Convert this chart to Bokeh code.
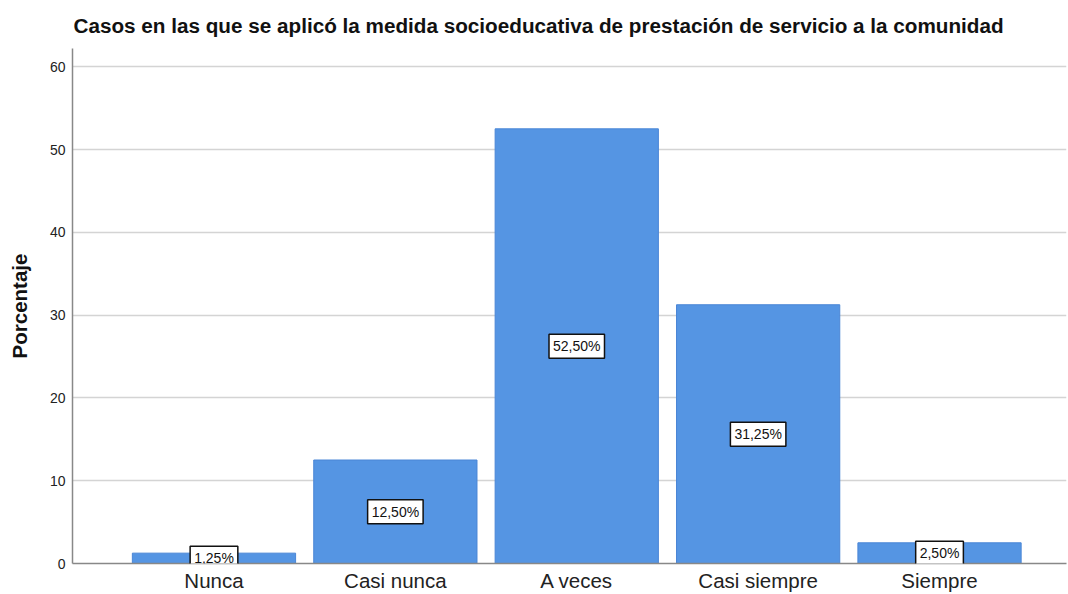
from bokeh.plotting import figure
from bokeh.models import ColumnDataSource, Label, FixedTicker, Range1d
from bokeh.embed import file_html
from bokeh.resources import INLINE

categories = ["Nunca", "Casi nunca", "A veces", "Casi siempre", "Siempre"]
values = [1.25, 12.50, 52.50, 31.25, 2.50]
labels = ["1,25%", "12,50%", "52,50%", "31,25%", "2,50%"]
y_ticks = [0, 10, 20, 30, 40, 50, 60]

FONT = "Liberation Sans"

xs = list(range(len(categories)))
source = ColumnDataSource(dict(x=xs, top=values))

p = figure(
    width=1068, height=594,
    output_backend="svg", toolbar_location=None,
    x_range=Range1d(-0.78, 4.70), y_range=Range1d(0, 62.2),
    min_border_left=72, min_border_right=2, min_border_top=48, min_border_bottom=30,
    title="Casos en las que se aplicó la medida socioeducativa de prestación de servicio a la comunidad",
)
p.outline_line_color = None
p.background_fill_color = "white"

p.title.text_font = FONT
p.title.text_font_size = "20.7px"
p.title.text_font_style = "bold"
p.title.text_color = "#111111"
p.title.offset = 1
p.title.standoff = 23

p.vbar(x="x", top="top", width=0.9, source=source,
       fill_color="#5595E3", line_color="#4A86D6", line_width=1)

for xi, v, t in zip(xs, values, labels):
    p.add_layout(Label(x=xi, y=v / 2, text=t,
                       text_align="center", text_baseline="middle",
                       text_font=FONT, text_font_size="14px", text_color="#111111",
                       background_fill_color="white", border_line_color="#111111",
                       border_line_width=1.5, padding=4))

p.xgrid.grid_line_color = None
p.ygrid.grid_line_color = "#d4d4d4"
p.ygrid.grid_line_width = 1.5
p.yaxis.ticker = FixedTicker(ticks=y_ticks)
p.xaxis.ticker = FixedTicker(ticks=xs)
p.xaxis.major_label_overrides = {i: c for i, c in enumerate(categories)}

for ax in (p.xaxis, p.yaxis):
    ax.axis_line_color = "#888888"
    ax.axis_line_width = 1.5
    ax.major_tick_line_color = None
    ax.minor_tick_line_color = None
    ax.major_tick_out = 0
    ax.major_tick_in = 0
    ax.major_label_text_font = FONT
    ax.major_label_text_color = "#222222"

p.yaxis.major_label_text_font_size = "14px"
p.yaxis.major_label_standoff = 7
p.xaxis.major_label_text_font_size = "20.5px"
p.xaxis.major_label_standoff = 5

p.yaxis.axis_label = "Porcentaje"
p.yaxis.axis_label_text_font = FONT
p.yaxis.axis_label_text_font_size = "20.5px"
p.yaxis.axis_label_text_font_style = "bold"
p.yaxis.axis_label_text_color = "#111111"
p.yaxis.axis_label_standoff = 16

open("out.html", "w").write(file_html(p, INLINE))
